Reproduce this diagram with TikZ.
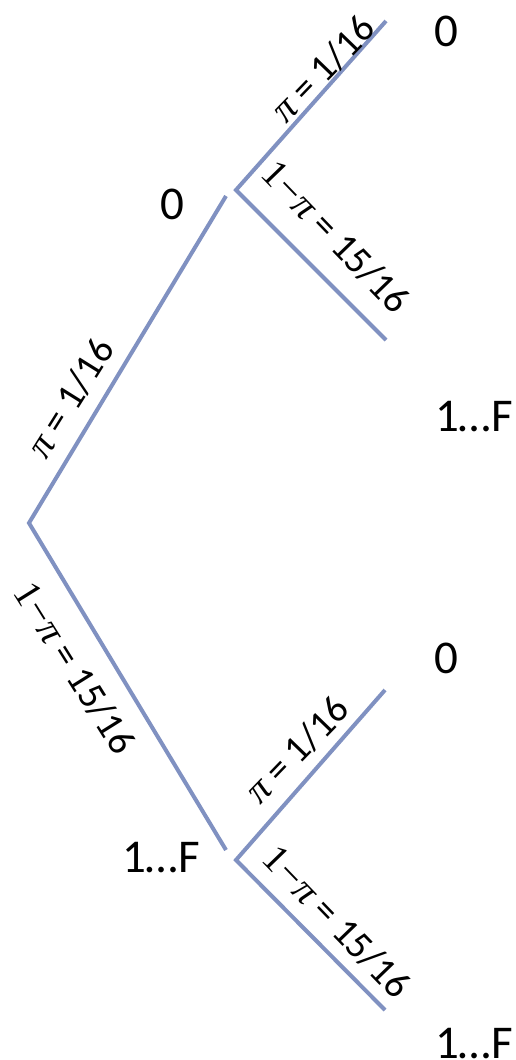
\documentclass[tikz,border=0pt]{standalone}
\usepackage{fontspec}
\setmainfont{Carlito}
\newfontfamily\mathfnt{Liberation Serif}
\newcommand{\mypi}{{\mathfnt\itshape π}}
\newcommand{\onempi}{{\mathfnt 1\kern0.03em−\kern0.03em\itshape π}}
\definecolor{lineblue}{RGB}{128,145,193}
\tikzset{
  branch/.style={draw=lineblue, line width=4pt, line join=miter},
  leaf/.style={font=\fontsize{47}{54}\selectfont, inner sep=0pt, anchor=center},
  prob/.style={font=\fontsize{39}{46}\selectfont, inner sep=0pt, anchor=center},
}
\begin{document}
\begin{tikzpicture}[x=1pt,y=-1pt]
\useasboundingbox (0,0) rectangle (516,1060);
% branch points
\coordinate (r) at (29,523);
\coordinate (rU) at (226,196);
\coordinate (rL) at (226,850);
\coordinate (u) at (236,190);
\coordinate (uU) at (386,21);
\coordinate (uL) at (386,340);
\coordinate (l) at (236,860);
\coordinate (lU) at (385,690);
\coordinate (lL) at (385,1010);
% branches
\draw[branch] (rU) -- (r) -- (rL);
\draw[branch] (uU) -- (u) -- (uL);
\draw[branch] (lU) -- (l) -- (lL);
% outcome labels
\node[leaf] (n0) at (172,204) {0};
\node[leaf] (n1) at (161,858) {1…F};
\node[leaf] (n00) at (446,31) {0};
\node[leaf] (n01) at (474,417) {1…F};
\node[leaf] (n10) at (446,658) {0};
\node[leaf] (n11) at (474,1044) {1…F};
% probability labels
\node[prob, rotate=58] (pA) at (70,398) {\mypi{} = 1/16};
\node[prob, rotate=-58] (pB) at (75,668) {\onempi{} = 15/16};
\node[prob, rotate=46] (pC) at (323,69) {\mypi{} = 1/16};
\node[prob, rotate=-46] (pD) at (336,237) {\onempi{} = 15/16};
\node[prob, rotate=46] (pE) at (297,750) {\mypi{} = 1/16};
\node[prob, rotate=-46] (pF) at (337,922) {\onempi{} = 15/16};
\end{tikzpicture}
\end{document}
